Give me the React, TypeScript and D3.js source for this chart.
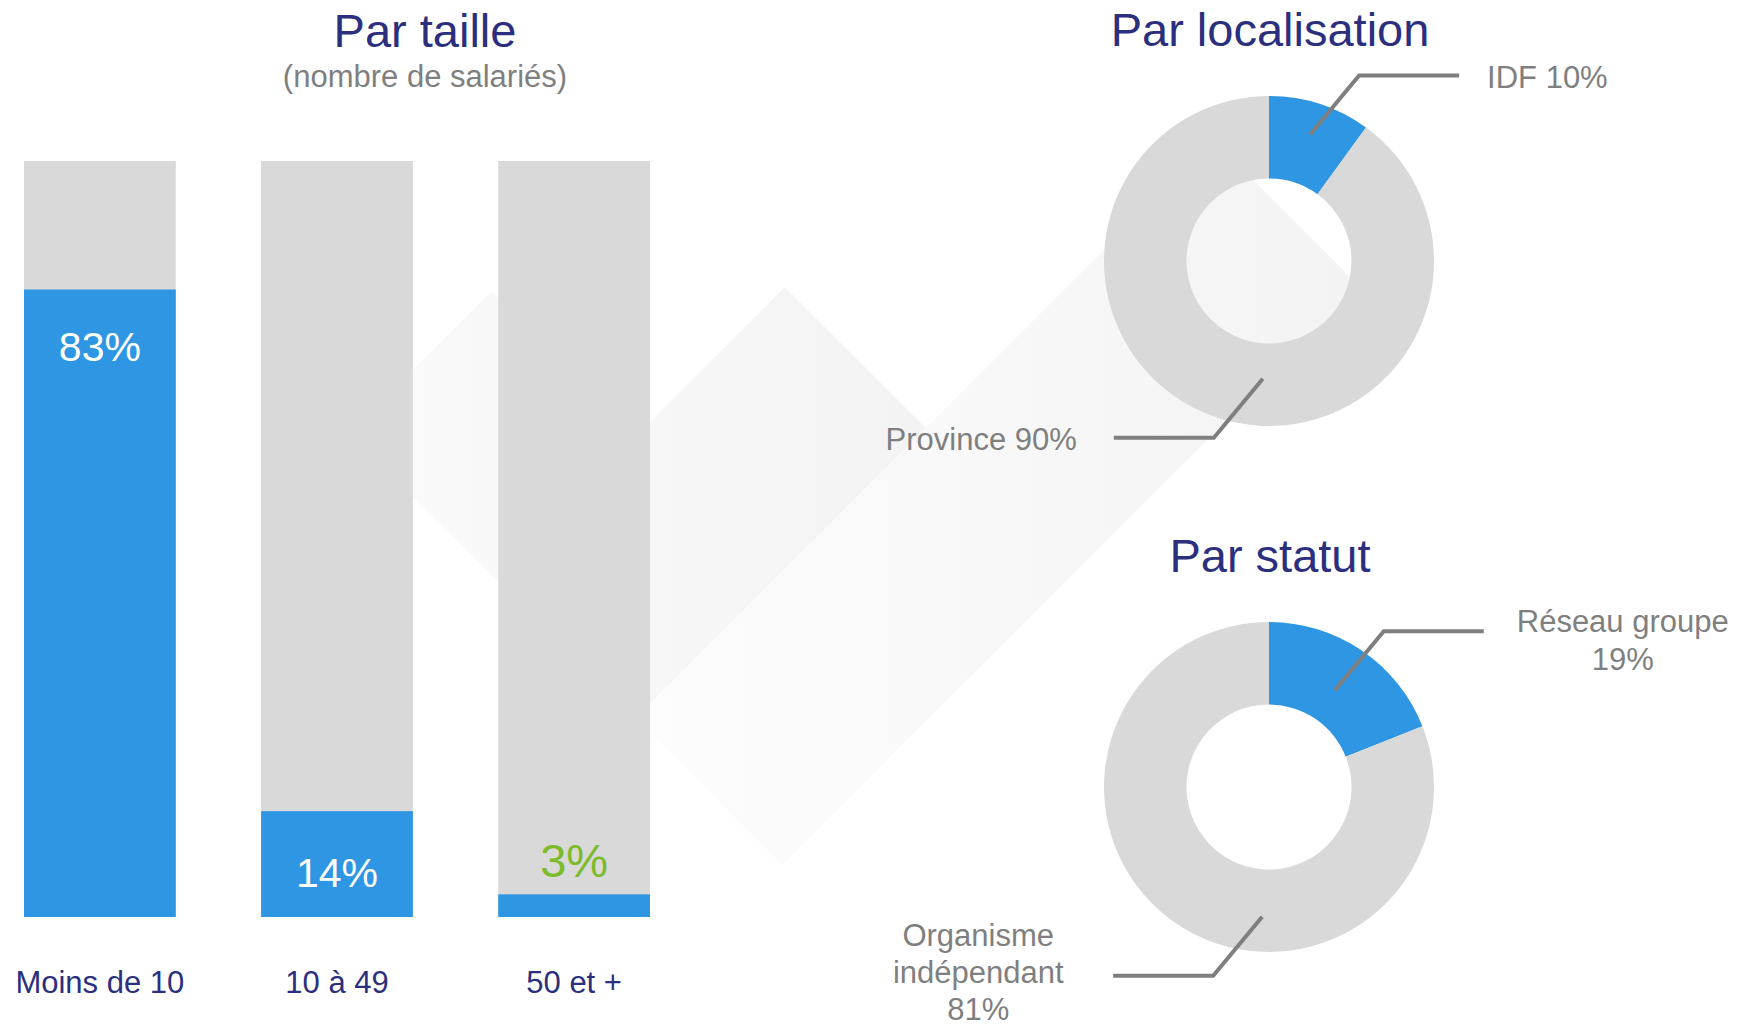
import * as d3 from 'd3'

const sizeCategories = ['Moins de 10', '10 à 49', '50 et +']
const sizeShares = [83, 14, 3]

const locationCategories = ['IDF', 'Province']
const locationShares = [10, 90]

const statutCategories = ['Réseau groupe', 'Organisme\nindépendant']
const statutShares = [19, 81]

const W = 1756
const H = 1027
const FONT = "'Liberation Sans', Arial, Helvetica, sans-serif"
const NAVY = '#2b2f7e'
const BLUE = '#2e96e2'
const TRACK = '#d9d9d9'
const LABEL_GRAY = '#7f7f7f'
const GREEN = '#7dbb2b'

type Leader = {
  angle: number | null // degrees clockwise from north, null = middle of slice
  r: number
  dir: 1 | -1
  anchor: 'start' | 'end' | 'middle'
  dx: number
  dy: number[]
}

const locationLeaders: Leader[] = [
  { angle: null, r: 133, dir: 1, anchor: 'start', dx: 28, dy: [12] },
  { angle: 183, r: 118, dir: -1, anchor: 'end', dx: -37, dy: [12] },
]
const statutLeaders: Leader[] = [
  { angle: null, r: 117, dir: 1, anchor: 'middle', dx: 139, dy: [1, 39] },
  { angle: 183, r: 130, dir: -1, anchor: 'middle', dx: -135, dy: [-30, 7.5, 44] },
]

// faint decorative shapes, in rotated coords u = x + y, v = x - y
const decoShapes = [
  { u: [783, 1080], v: [-83, 200], from: '#fbfbfb', to: '#f5f5f5', x: [350, 640] },
  { u: [1072, 1354], v: [-83, 498], from: '#f9f9f9', to: '#f3f3f3', x: [494, 926] },
  { u: [1354, 1647], v: [-83, 1073], from: '#fdfdfd', to: '#f3f3f3', x: [636, 1360] },
]

function decoPoints(s: { u: number[]; v: number[] }) {
  const corners = [
    [s.u[0], s.v[0]],
    [s.u[0], s.v[1]],
    [s.u[1], s.v[1]],
    [s.u[1], s.v[0]],
  ]
  return corners.map(([u, v]) => `${(u + v) / 2},${(u - v) / 2}`).join(' ')
}

function SizeBars() {
  const x = d3.scaleBand<string>().domain(sizeCategories).range([24, 650]).paddingInner(0.36).paddingOuter(0)
  const y = d3.scaleLinear().domain([0, 100]).range([917, 161])
  const bw = x.bandwidth()

  return (
    <g>
      <text x={425} y={47} textAnchor="middle" fontSize={47} fill={NAVY}>
        Par taille
      </text>
      <text x={425} y={87} textAnchor="middle" fontSize={31} fill={LABEL_GRAY}>
        (nombre de salariés)
      </text>
      {sizeCategories.map((cat, i) => {
        const v = sizeShares[i]
        const x0 = x(cat)!
        const cx = x0 + bw / 2
        let ly = y(0) - 30
        let color = '#ffffff'
        let fs = 41
        if (v >= 50) ly = y(v) + 71
        else if (v < 10) {
          ly = y(v) - 17
          color = GREEN
          fs = 47
        }
        return (
          <g key={cat}>
            <rect x={x0} y={y(100)} width={bw} height={y(0) - y(100)} fill={TRACK} />
            <rect x={x0} y={y(v)} width={bw} height={y(0) - y(v)} fill={BLUE} />
            <text x={cx} y={ly} textAnchor="middle" fontSize={fs} fill={color}>
              {`${v}%`}
            </text>
            <text x={cx} y={993} textAnchor="middle" fontSize={31} fill={NAVY}>
              {cat}
            </text>
          </g>
        )
      })}
    </g>
  )
}

function Donut({
  cx,
  cy,
  title,
  categories,
  shares,
  leaders,
}: {
  cx: number
  cy: number
  title: string
  categories: string[]
  shares: number[]
  leaders: Leader[]
}) {
  const pie = d3.pie<number>().sort(null).value((d) => d)
  const arcs = pie(shares)
  const arc = d3.arc<d3.PieArcDatum<number>>().innerRadius(82.5).outerRadius(165)
  const colors = [BLUE, TRACK]

  return (
    <g transform={`translate(${cx},${cy})`}>
      <text x={1} y={-215} textAnchor="middle" fontSize={47} fill={NAVY}>
        {title}
      </text>
      {arcs.map((a, i) => (
        <path key={categories[i]} d={arc(a) ?? ''} fill={colors[i]} />
      ))}
      {arcs.map((a, i) => {
        const l = leaders[i]
        const ang = l.angle == null ? (a.startAngle + a.endAngle) / 2 : (l.angle * Math.PI) / 180
        const sx = l.r * Math.sin(ang)
        const sy = -l.r * Math.cos(ang)
        const ex = sx + l.dir * 49
        const ey = sy - l.dir * 59
        const hx = ex + l.dir * 100
        const lines = [...categories[i].split('\n')]
        if (lines.length === 1 && l.dy.length === 1) lines[0] = `${lines[0]} ${shares[i]}%`
        else lines.push(`${shares[i]}%`)
        return (
          <g key={`lbl-${i}`}>
            <path
              d={d3.line()([
                [sx, sy],
                [ex, ey],
                [hx, ey],
              ]) ?? ''}
              fill="none"
              stroke={LABEL_GRAY}
              strokeWidth={4}
            />
            <text textAnchor={l.anchor} fontSize={31} fill={LABEL_GRAY}>
              {lines.map((t, j) => (
                <tspan key={j} x={hx + l.dx} y={ey + l.dy[j]}>
                  {t}
                </tspan>
              ))}
            </text>
          </g>
        )
      })}
    </g>
  )
}

export default function App() {
  return (
    <svg
      width={W}
      height={H}
      style={{ position: 'absolute', left: 0, top: 0, background: '#ffffff' }}
      fontFamily={FONT}
    >
      <defs>
        {decoShapes.map((s, i) => (
          <linearGradient key={i} id={`deco${i}`} gradientUnits="userSpaceOnUse" x1={s.x[0]} x2={s.x[1]} y1={0} y2={0}>
            <stop offset="0" stopColor={s.from} />
            <stop offset="1" stopColor={s.to} />
          </linearGradient>
        ))}
      </defs>
      <rect width={W} height={H} fill="#ffffff" />
      {decoShapes.map((s, i) => (
        <polygon key={i} points={decoPoints(s)} fill={`url(#deco${i})`} />
      ))}
      <SizeBars />
      <Donut
        cx={1269}
        cy={261}
        title="Par localisation"
        categories={locationCategories}
        shares={locationShares}
        leaders={locationLeaders}
      />
      <Donut
        cx={1269}
        cy={787}
        title="Par statut"
        categories={statutCategories}
        shares={statutShares}
        leaders={statutLeaders}
      />
    </svg>
  )
}
